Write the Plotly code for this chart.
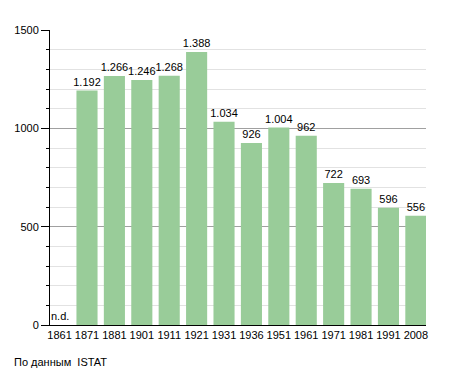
import plotly.graph_objects as go

years = ["1861", "1871", "1881", "1901", "1911", "1921", "1931", "1936",
         "1951", "1961", "1971", "1981", "1991", "2008"]
population = [None, 1192, 1266, 1246, 1268, 1388, 1034, 926,
              1004, 962, 722, 693, 596, 556]
y_ticks = [0, 500, 1000, 1500]
source_text = "По данным  ISTAT"


def fmt(v):
    if v is None:
        return ""
    return f"{v:,}".replace(",", ".")


labels = [fmt(v) for v in population]
FONT = "Liberation Sans, Arial, sans-serif"

fig = go.Figure()
fig.add_trace(go.Bar(
    x=years, y=population,
    marker=dict(color="#99cc99", line=dict(width=0)),
    width=0.77,
    text=labels, textposition="outside", cliponaxis=False,
    constraintext="none",
    textfont=dict(family=FONT, size=11, color="black"),
    hoverinfo="x+y",
))

fig.add_annotation(xref="x", yref="paper", x=0, y=0, text="n.d.",
                   showarrow=False, xanchor="center", yanchor="bottom",
                   yshift=1,
                   font=dict(family=FONT, size=11, color="black"))
fig.add_annotation(xref="paper", yref="paper", x=-0.101, y=-0.125,
                   xanchor="left", yanchor="middle", text=source_text,
                   showarrow=False,
                   font=dict(family=FONT, size=11, color="black"))

# page body has an 8px default margin, so the figure is shrunk by 8px
fig.update_layout(
    width=447, height=365,
    margin=dict(l=42, r=29, t=22, b=48, autoexpand=False),
    paper_bgcolor="white", plot_bgcolor="white",
    showlegend=False,
    uniformtext=dict(mode=False),
    font=dict(family=FONT, size=11, color="black"),
    xaxis=dict(type="category", range=[-0.35, 13.37],
               showline=True, linecolor="black", linewidth=1,
               ticks="", showgrid=False, tickfont=dict(size=11),
               fixedrange=True),
    yaxis=dict(range=[0, 1500], tickvals=y_ticks,
               showline=True, linecolor="black", linewidth=1,
               ticks="outside", ticklen=8, tickcolor="black",
               showgrid=True, gridcolor="#a0a0a0", gridwidth=1,
               zeroline=False, tickfont=dict(size=11),
               minor=dict(dtick=100, ticks="outside", ticklen=3,
                          tickcolor="black", showgrid=True,
                          gridcolor="#e2e2e2", gridwidth=1),
               fixedrange=True),
    bargap=0.23,
)

fig.write_html("out.html")
